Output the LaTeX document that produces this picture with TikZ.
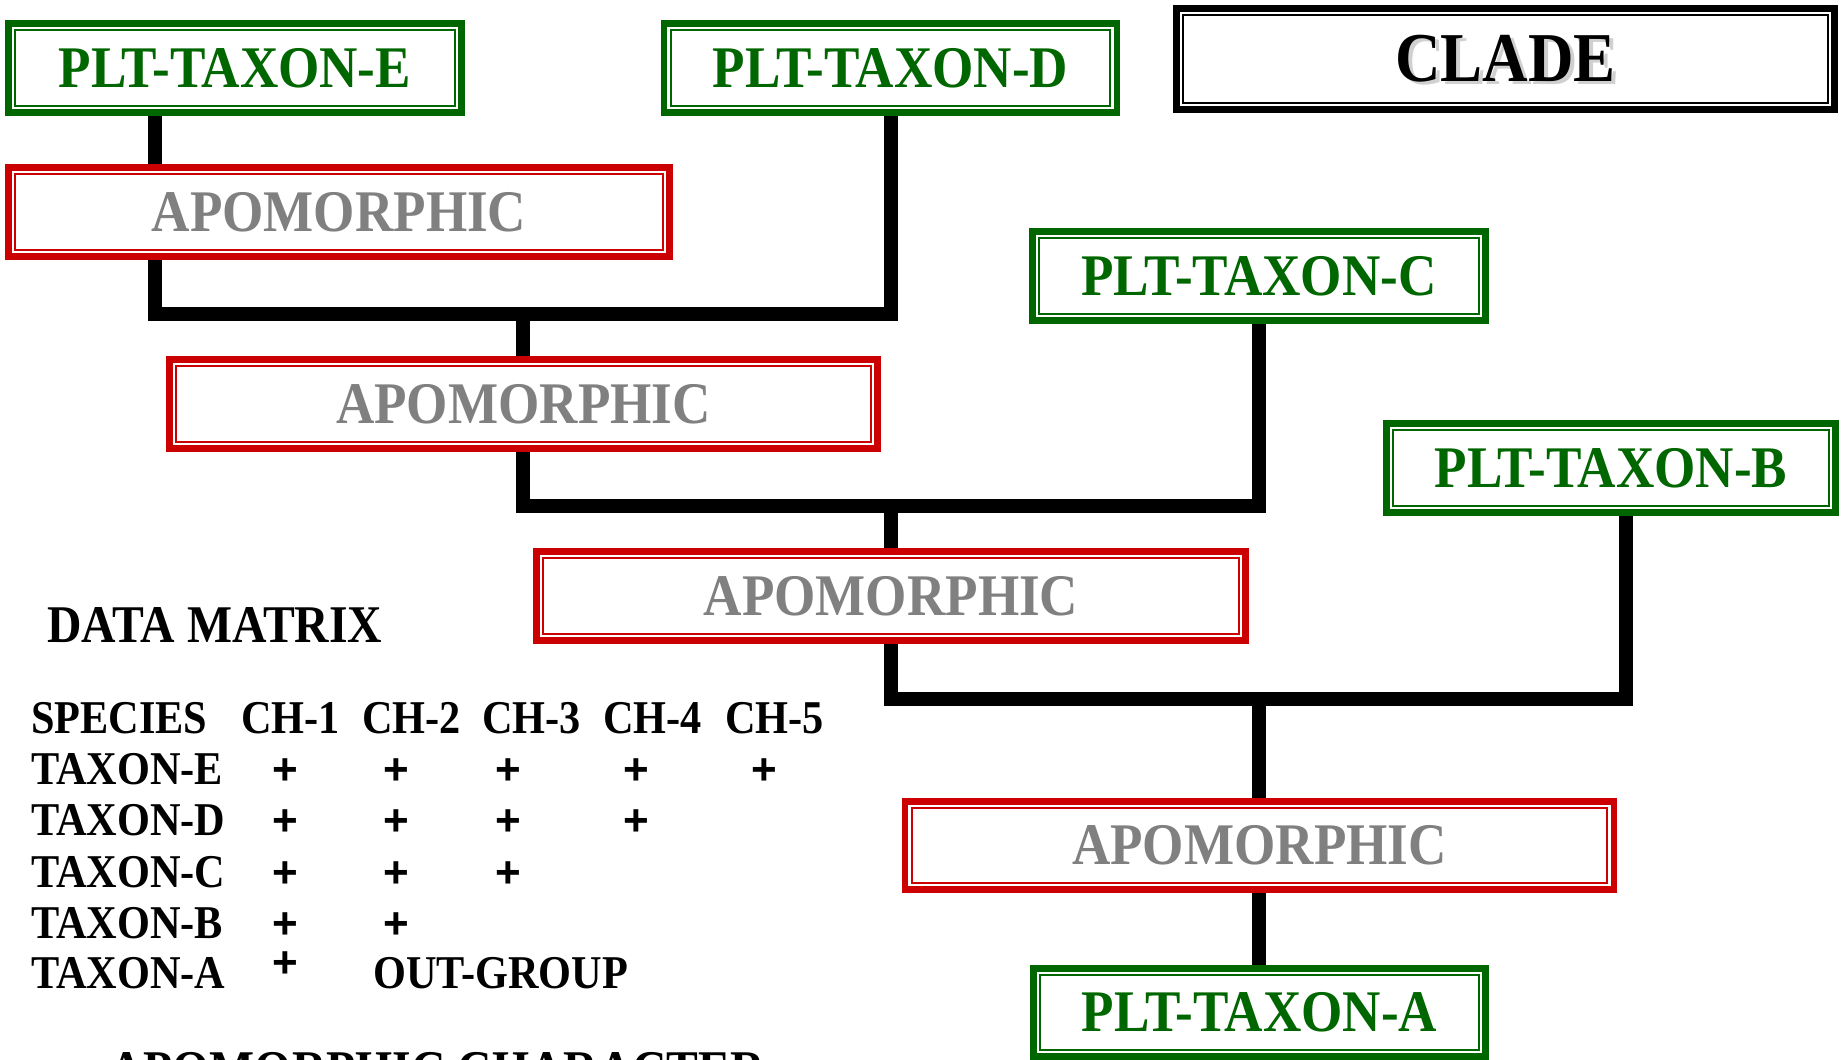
\documentclass[tikz,border=0pt]{standalone}
\usepackage{fontspec}
\newfontfamily\tnr[FakeStretch=0.9]{Liberation Serif}
\newfontfamily\plusfont{Liberation Sans}
\usetikzlibrary{calc,backgrounds}
\definecolor{pgreen}{RGB}{0,102,0}
\definecolor{pred}{RGB}{204,0,0}
\definecolor{pgray}{RGB}{128,128,128}
\begin{document}
\begin{tikzpicture}[x=1pt,y=-1pt,
  dblbox/.style={draw=#1, line width=6.5pt, inner sep=0pt, fill=white},
  taxon/.style={dblbox=pgreen, text=pgreen, minimum width=453pt, minimum height=89pt,
    font=\tnr\bfseries\fontsize{59}{62}\selectfont},
  apo/.style={dblbox=pred, text=pgray, minimum width=709pt, minimum height=89pt,
    font=\tnr\bfseries\fontsize{59}{62}\selectfont},
  cladebox/.style={dblbox=black, text=black, minimum width=658pt, minimum height=101pt},
  cladefont/.style={inner sep=0pt, font=\tnr\bfseries\fontsize{70}{74}\selectfont},
  conn/.style={line width=14pt, line join=miter, black},
  mtx/.style={anchor=base west, inner sep=0pt, font=\tnr\bfseries\fontsize{47}{50}\selectfont},
  plus/.style={anchor=base, inner sep=0pt, font=\plusfont\bfseries\fontsize{44}{48}\selectfont},
  thinframe/.style={draw=#1, line width=2pt}
]
\useasboundingbox (0,0) rectangle (1845,1060);

% boxes
\node[taxon] (e) at (235,68) {PLT-TAXON-E};
\node[taxon] (d) at (890.5,68) {PLT-TAXON-D};
\node[cladebox] (clade) at (1505.5,59) {};
\node[cladefont, text=black!30, opacity=0.6] (cladeshadow) at (1509.5,62) {CLADE};
\node[cladefont] (cladetext) at (clade.center) {CLADE};
\node[apo, minimum width=661pt] (apo1) at (339,212) {APOMORPHIC};
\node[taxon] (c) at (1259,276) {PLT-TAXON-C};
\node[apo, minimum width=708pt] (apo2) at (523.5,404) {APOMORPHIC};
\node[taxon, minimum width=449pt] (b) at (1611,468) {PLT-TAXON-B};
\node[apo] (apo3) at (891,596) {APOMORPHIC};
\node[apo, minimum height=88pt] (apo4) at (1259.5,845.5) {APOMORPHIC};
\node[taxon, minimum width=452pt, minimum height=88pt] (a) at (1259.5,1012.5) {PLT-TAXON-A};

% inner thin frames (double-border look); anchors lie on the outer edge of the thick stroke
\draw[thinframe=pgreen] ($(e.north west)+(9.8,9.8)$) rectangle ($(e.south east)+(-9.8,-9.8)$);
\draw[thinframe=pgreen] ($(d.north west)+(9.8,9.8)$) rectangle ($(d.south east)+(-9.8,-9.8)$);
\draw[thinframe=pgreen] ($(c.north west)+(9.8,9.8)$) rectangle ($(c.south east)+(-9.8,-9.8)$);
\draw[thinframe=pgreen] ($(b.north west)+(9.8,9.8)$) rectangle ($(b.south east)+(-9.8,-9.8)$);
\draw[thinframe=pgreen] ($(a.north west)+(9.8,9.8)$) rectangle ($(a.south east)+(-9.8,-9.8)$);
\draw[thinframe=pred] ($(apo1.north west)+(9.8,9.8)$) rectangle ($(apo1.south east)+(-9.8,-9.8)$);
\draw[thinframe=pred] ($(apo2.north west)+(9.8,9.8)$) rectangle ($(apo2.south east)+(-9.8,-9.8)$);
\draw[thinframe=pred] ($(apo3.north west)+(9.8,9.8)$) rectangle ($(apo3.south east)+(-9.8,-9.8)$);
\draw[thinframe=pred] ($(apo4.north west)+(9.8,9.8)$) rectangle ($(apo4.south east)+(-9.8,-9.8)$);
\draw[thinframe=black] ($(clade.north west)+(9.8,9.8)$) rectangle ($(clade.south east)+(-9.8,-9.8)$);

% connectors
\coordinate (xe) at (155,0);
\coordinate (xb) at (1626,0);
\coordinate (j1) at (523,314);
\coordinate (j2) at (891,506);
\coordinate (j3) at (1259,699);
\begin{scope}[on background layer]
\fill[white] (0,0) rectangle (1845,1060);
\draw[conn] (xe |- e.south) -- (xe |- apo1.north);
\draw[conn] (xe |- apo1.south) |- (j1) -| (d.south);
\draw[conn] (j1) -- (j1 |- apo2.north);
\draw[conn] (j1 |- apo2.south) |- (j2) -| (c.south);
\draw[conn] (j2) -- (j2 |- apo3.north);
\draw[conn] (j2 |- apo3.south) |- (j3) -| (xb |- b.south);
\draw[conn] (j3) -- (j3 |- apo4.north);
\draw[conn] (j3 |- apo4.south) -- (j3 |- a.north);
\end{scope}

% data matrix
\node[mtx, font=\tnr\bfseries\fontsize{53}{56}\selectfont] (title) at (47,642) {DATA MATRIX};
\node[mtx] (hsp) at (31,733) {SPECIES};
\node[mtx] (h1) at (241,733) {CH-1};
\node[mtx] (h2) at (362,733) {CH-2};
\node[mtx] (h3) at (482,733) {CH-3};
\node[mtx] (h4) at (603,733) {CH-4};
\node[mtx] (h5) at (725,733) {CH-5};
\node[mtx] (re) at (31,784) {TAXON-E};
\node[mtx] (rd) at (31,835) {TAXON-D};
\node[mtx] (rc) at (31,887) {TAXON-C};
\node[mtx] (rb) at (31,938) {TAXON-B};
\node[mtx] (ra) at (31,988) {TAXON-A};
\node[mtx] (og) at (373,988) {OUT-GROUP};
\foreach \x [count=\i] in {285,396,508,636,764} \node[plus] (pe\i) at (\x,784) {+};
\foreach \x [count=\i] in {285,396,508,636} \node[plus] (pd\i) at (\x,835) {+};
\foreach \x [count=\i] in {285,396,508} \node[plus] (pc\i) at (\x,887) {+};
\foreach \x [count=\i] in {285,396} \node[plus] (pb\i) at (\x,938) {+};
\node[plus] (pa1) at (285,977) {+};

% cut-off caption at the bottom
\node[mtx, font=\tnr\bfseries\fontsize{53}{56}\selectfont] (caption) at (109,1087) {APOMORPHIC CHARACTER};
\end{tikzpicture}
\end{document}
